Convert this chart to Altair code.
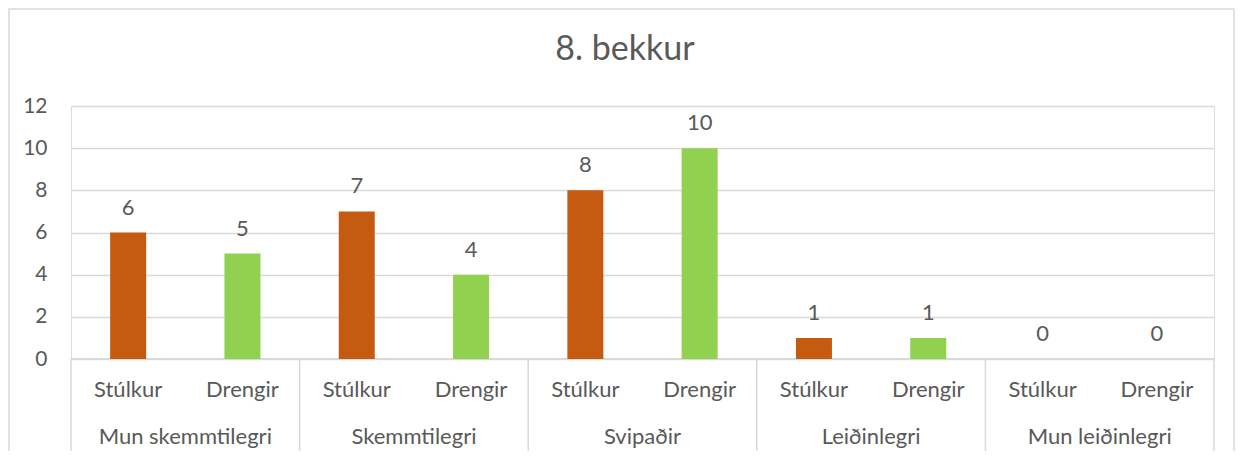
import altair as alt
import pandas as pd

groups = ["Mun skemmtilegri", "Skemmtilegri", "Svipaðir", "Leiðinlegri", "Mun leiðinlegri"]
genders = ["Stúlkur", "Drengir"]
stulkur = [6, 7, 8, 1, 0]
drengir = [5, 4, 10, 1, 0]
title_text = "8. bekkur"
colors = ["#C55A11", "#92D050"]

rows = []
for g, s, d in zip(groups, stulkur, drengir):
    rows.append({"group": g, "gender": "Stúlkur", "value": s})
    rows.append({"group": g, "gender": "Drengir", "value": d})
df = pd.DataFrame(rows)
gdf = pd.DataFrame({"group": groups})

FONT = "Lato"
TXT = "#595959"
GRID = "#D9D9D9"
W, H = 1143, 253
FS = 22

xenc = alt.X("group:N", sort=groups, axis=None,
             scale=alt.Scale(paddingInner=0, paddingOuter=0))
xoff = alt.XOffset("gender:N", sort=genders,
                   scale=alt.Scale(paddingInner=0.685, paddingOuter=0.3425))
yenc = alt.Y("value:Q", scale=alt.Scale(domain=[0, 12]),
             axis=alt.Axis(values=[0, 2, 4, 6, 8, 10, 12], title=None, domain=False,
                           ticks=False, gridColor=GRID, gridWidth=1.3,
                           labelFont=FONT, labelFontSize=21, labelColor=TXT,
                           labelPadding=24))

base = alt.Chart(df)

bars = base.mark_bar().encode(
    x=xenc, xOffset=xoff, y=yenc,
    color=alt.Color("gender:N", sort=genders,
                    scale=alt.Scale(domain=genders, range=colors), legend=None),
)
labels = base.mark_text(font=FONT, fontSize=FS, color=TXT, baseline="middle", dy=-25).encode(
    x=xenc, xOffset=xoff, y=alt.Y("value:Q"), text="value:Q"
)
sub = base.mark_text(font=FONT, fontSize=FS, color=TXT, baseline="middle").encode(
    x=xenc, xOffset=xoff, y=alt.value(284), text="gender:N"
)
grp = alt.Chart(gdf).mark_text(font=FONT, fontSize=FS, color=TXT, baseline="middle").encode(
    x=xenc, y=alt.value(331), text="group:N"
)
seps = alt.Chart(gdf).mark_rule(color=GRID, strokeWidth=1.5).encode(
    x=alt.X("group:N", sort=groups, axis=None, bandPosition=0),
    y=alt.value(H), y2=alt.value(H + 92)
)
seps_end = alt.Chart(gdf).transform_filter(
    alt.datum.group == groups[-1]
).mark_rule(color=GRID, strokeWidth=1.5).encode(
    x=alt.X("group:N", sort=groups, axis=None, bandPosition=1),
    y=alt.value(H), y2=alt.value(H + 92)
)
baseline = alt.Chart(gdf).mark_rule(color=GRID, strokeWidth=1.5).encode(
    x=alt.value(0), x2=alt.value(W), y=alt.value(H)
)
title = alt.Chart(gdf).transform_filter(alt.datum.group == groups[0]).mark_text(
    font=FONT, fontSize=34, color=TXT, baseline="middle", align="center"
).encode(x=alt.value(554), y=alt.value(-56), text=alt.value(title_text))
border = alt.Chart(gdf).transform_filter(alt.datum.group == groups[0]).mark_rect(
    fill=None, stroke=GRID, strokeWidth=1.5
).encode(x=alt.value(-62), x2=alt.value(W + 20), y=alt.value(-97), y2=alt.value(H + 120))

chart = alt.layer(border, seps, seps_end, baseline, bars, labels, sub, grp, title).properties(
    width=W, height=H,
    padding={"left": 63, "top": 98, "right": 22, "bottom": 92},
    autosize=alt.AutoSizeParams(type="none"),
).configure_view(stroke=None).configure(background="white")

chart.save("out.html", embed_options={"renderer": "svg", "actions": False})
